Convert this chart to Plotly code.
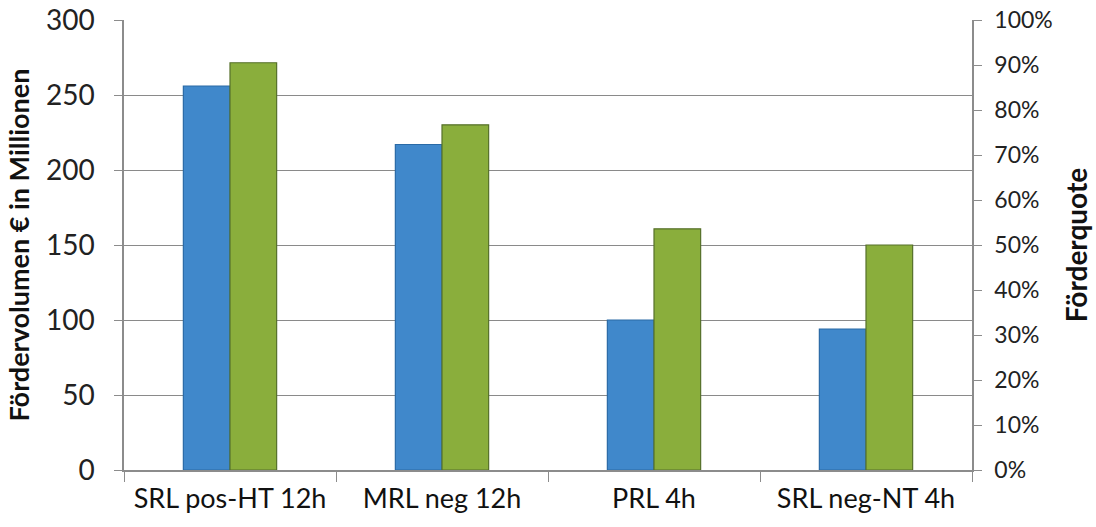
import plotly.graph_objects as go

# Produkte der Regelleistung
categories = ["SRL pos-HT 12h", "MRL neg 12h", "PRL 4h", "SRL neg-NT 4h"]
# Fördervolumen in Mio. €
volume = [256, 217, 100, 94]
# Förderquote (Anteil)
quote = [0.905, 0.767, 0.536, 0.50]

left_ticks = [0, 50, 100, 150, 200, 250, 300]
right_ticks = [i / 10 for i in range(11)]

FONT = "Lato, Calibri, 'Open Sans', sans-serif"
AXIS_GREY = "#8c8c8c"

fig = go.Figure()

fig.add_trace(go.Bar(
    x=categories, y=volume, name="Fördervolumen",
    offsetgroup="a", yaxis="y",
    marker=dict(color="#4088cb", line=dict(color="#2a6aa6", width=1.2)),
))
fig.add_trace(go.Bar(
    x=categories, y=quote, name="Förderquote",
    offsetgroup="b", yaxis="y2",
    marker=dict(color="#8aae3c", line=dict(color="#56702a", width=1.2)),
))

fig.update_layout(
    width=1096, height=527,
    margin=dict(l=124, r=124, t=20, b=57),
    paper_bgcolor="white", plot_bgcolor="white",
    barmode="group",
    bargap=0.56, bargroupgap=0.0,
    showlegend=False,
    font=dict(family=FONT, color="#222222"),
    xaxis=dict(
        type="category", automargin=False,
        showline=True, linecolor=AXIS_GREY, linewidth=1.5,
        ticks="outside", ticklen=10, tickcolor=AXIS_GREY, tickwidth=1.2,
        tickson="boundaries", ticklabelstandoff=4,
        showgrid=False,
        tickfont=dict(size=27, family=FONT, color="#111111"),
    ),
    yaxis=dict(
        range=[0, 300], tickvals=left_ticks, automargin=False,
        showline=True, linecolor=AXIS_GREY, linewidth=1.5,
        ticks="outside", ticklen=8, tickcolor=AXIS_GREY,
        ticklabelstandoff=14,
        showgrid=True, gridcolor="#8a8a8a", gridwidth=1,
        zeroline=False,
        tickfont=dict(size=28, family=FONT, color="#222222"),
        title=dict(text="<b>Fördervolumen € in Millionen</b>",
                   font=dict(size=27, family=FONT, color="#111111"),
                   standoff=8),
    ),
    yaxis2=dict(
        range=[0, 1], tickvals=right_ticks, tickformat=".0%",
        overlaying="y", side="right", automargin=False,
        showline=True, linecolor=AXIS_GREY, linewidth=1.5,
        ticks="outside", ticklen=8, tickcolor=AXIS_GREY,
        ticklabelstandoff=8,
        showgrid=False, zeroline=False,
        tickfont=dict(size=23, family=FONT, color="#222222"),
        title=dict(text="<b>Förderquote</b>",
                   font=dict(size=28, family=FONT, color="#111111"),
                   standoff=16),
    ),
)

fig.write_html("out.html")
